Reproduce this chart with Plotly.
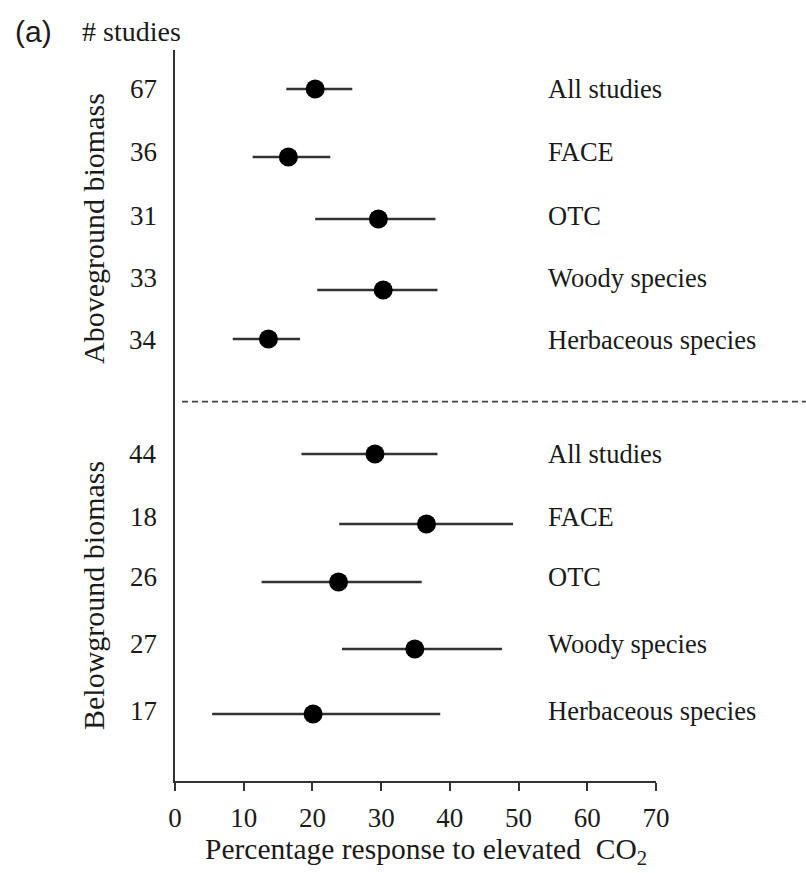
import plotly.graph_objects as go

# ---- data ----
categories = ["All studies", "FACE", "OTC", "Woody species", "Herbaceous species"]

n_above = [67, 36, 31, 33, 34]
mean_above = [20.4, 16.5, 29.6, 30.3, 13.6]
lo_above = [16.2, 11.3, 20.4, 20.7, 8.4]
hi_above = [25.8, 22.6, 37.9, 38.2, 18.2]

n_below = [44, 18, 26, 27, 17]
mean_below = [29.1, 36.6, 23.8, 34.9, 20.1]
lo_below = [18.4, 23.9, 12.6, 24.3, 5.4]
hi_below = [38.2, 49.2, 35.9, 47.6, 38.6]

x_ticks = [0, 10, 20, 30, 40, 50, 60, 70]

# ---- layout positions (vertical rows, measured from top) ----
row_dot_above = [89, 157, 219, 290, 339]
row_lab_above = [89, 152, 216, 278, 340]
row_dot_below = [454, 524, 582, 649, 714]
row_lab_below = [454, 517, 577, 644, 711]
sep_y = 401.7

SERIF = "Liberation Serif"
INK = "#1a1a1a"
LINE = "#333333"

def py(p):
    """pixel from top -> paper y"""
    return 1 - (p - 50) / 731

def px(p):
    return (p - 175) / 481

fig = go.Figure()

def add_group(means, lo, hi, rows):
    fig.add_trace(go.Scatter(
        x=means, y=rows, mode="markers",
        marker=dict(color="black", size=19),
        error_x=dict(type="data", symmetric=False,
                     array=[h - m for h, m in zip(hi, means)],
                     arrayminus=[m - l for m, l in zip(means, lo)],
                     color=LINE, thickness=2.6, width=0),
        showlegend=False, hoverinfo="skip"))

add_group(mean_above, lo_above, hi_above, row_dot_above)
add_group(mean_below, lo_below, hi_below, row_dot_below)

ann = []
for ns, rows in ((n_above, row_lab_above), (n_below, row_lab_below)):
    for n, cat, y in zip(ns, categories, rows):
        ann.append(dict(x=0, xref="paper", y=py(y), yref="paper", text=str(n), showarrow=False,
                        xanchor="right", yanchor="middle", xshift=-16,
                        font=dict(family=SERIF, size=27, color=INK)))
        ann.append(dict(x=px(546), xref="paper", y=py(y), yref="paper", text=cat,
                        showarrow=False, xanchor="left", yanchor="middle",
                        font=dict(family=SERIF, size=26.5, color=INK)))

ann.append(dict(x=px(93), xref="paper", y=py(229), yref="paper",
                text="Aboveground biomass", textangle=-90, showarrow=False,
                xanchor="center", yanchor="middle",
                font=dict(family=SERIF, size=30, color=INK)))
ann.append(dict(x=px(93), xref="paper", y=py(596), yref="paper",
                text="Belowground biomass", textangle=-90, showarrow=False,
                xanchor="center", yanchor="middle",
                font=dict(family=SERIF, size=30, color=INK)))

ann.append(dict(x=px(80), xref="paper", y=py(32), yref="paper",
                text="# studies", showarrow=False, xanchor="left", yanchor="middle",
                font=dict(family=SERIF, size=28, color=INK)))
ann.append(dict(x=px(13), xref="paper", y=py(32), yref="paper",
                text="(a)", showarrow=False, xanchor="left", yanchor="middle",
                font=dict(family="Liberation Sans", size=30, color=INK)))
ann.append(dict(x=px(426), xref="paper", y=py(851), yref="paper",
                text="Percentage response to elevated&nbsp; CO<sub>2</sub>", showarrow=False,
                xanchor="center", yanchor="middle",
                font=dict(family=SERIF, size=29.5, color=INK)))

fig.add_shape(type="line", xref="paper", yref="y",
              x0=px(182), x1=px(806), y0=sep_y, y1=sep_y,
              line=dict(color="#444444", width=1.8, dash="6px,4px"))

fig.update_layout(
    width=806, height=873,
    margin=dict(l=175, r=150, t=50, b=92),
    plot_bgcolor="white", paper_bgcolor="white",
    annotations=ann,
    xaxis=dict(range=[0, 70], tickvals=x_ticks, ticktext=[str(v) for v in x_ticks],
               showgrid=False, zeroline=False, showline=True, linecolor=LINE, linewidth=2,
               ticks="outside", ticklen=8, tickwidth=2, tickcolor=LINE,
               tickfont=dict(family=SERIF, size=27, color=INK), ticklabelstandoff=4),
    yaxis=dict(range=[781, 50], showgrid=False, zeroline=False, showline=True,
               linecolor=LINE, linewidth=2, showticklabels=False, ticks=""),
)

fig.write_html("out.html")
